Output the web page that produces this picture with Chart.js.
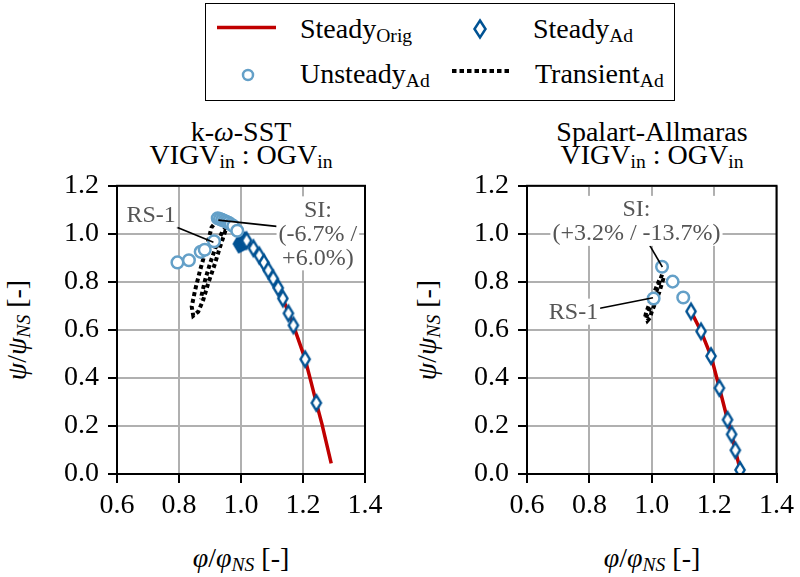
<!DOCTYPE html>
<html>
<head>
<meta charset="utf-8">
<title>Kennlinien VIGV : OGV</title>
<script src="https://cdn.jsdelivr.net/npm/chart.js@4.4.1/dist/chart.umd.min.js"></script>
<style>
    body {
        margin: 0;
        width: 800px;
        height: 577px;
        position: relative;
        overflow: hidden;
        background: #fff;
        color: #000;
        font-family: 'Liberation Serif', 'Times New Roman', serif;
    }
    canvas { position: absolute; }
    .txt {
        position: absolute;
        font-size: 28px;
        line-height: 28px;
        white-space: nowrap;
    }
    .center { transform: translateX(-50%); }
    .sub { font-size: 0.7em; position: relative; top: 0.22em; }
    .it { font-style: italic; }
    .ylab { transform: translate(-50%, -50%) rotate(-90deg); }
    #legend-box {
        position: absolute;
        left: 205px;
        top: 3px;
        width: 470px;
        height: 98px;
        border: 1.5px solid #000;
        box-sizing: border-box;
    }
</style>
</head>
<body>

<!-- legend -->
<div id="legend-box"></div>
<svg width="800" height="105" style="position:absolute;left:0;top:0">
    <line x1="217" y1="27.5" x2="276" y2="27.5" stroke="#C00000" stroke-width="3.5"/>
    <polygon points="480,20.5 485.5,29 480,37.5 474.5,29" fill="#fff" stroke="#005293" stroke-width="2.5"/>
    <circle cx="248" cy="75" r="5" fill="#fff" stroke="#64A0C8" stroke-width="2.5"/>
    <line x1="452" y1="71" x2="511" y2="71" stroke="#000" stroke-width="4" stroke-dasharray="4.5 3"/>
</svg>
<div class="txt" style="left:300px;top:15px">Steady<span class="sub">Orig</span></div>
<div class="txt" style="left:533px;top:15px">Steady<span class="sub">Ad</span></div>
<div class="txt" style="left:300px;top:59.5px">Unsteady<span class="sub">Ad</span></div>
<div class="txt" style="left:535px;top:59.5px">Transient<span class="sub">Ad</span></div>

<!-- titles -->
<div class="txt center" style="left:241px;top:118px">k-<span class="it">ω</span>-SST</div>
<div class="txt center" style="left:241px;top:141px">VIGV<span class="sub">in</span> : OGV<span class="sub">in</span></div>
<div class="txt center" style="left:652px;top:118px">Spalart-Allmaras</div>
<div class="txt center" style="left:652px;top:141px">VIGV<span class="sub">in</span> : OGV<span class="sub">in</span></div>

<!-- axis titles -->
<div class="txt ylab" style="left:18px;top:330px"><span class="it">ψ</span>/<span class="it">ψ</span><span class="sub it">NS</span> [-]</div>
<div class="txt ylab" style="left:428px;top:330px"><span class="it">ψ</span>/<span class="it">ψ</span><span class="sub it">NS</span> [-]</div>
<div class="txt center" style="left:241px;top:543.5px"><span class="it">φ</span>/<span class="it">φ</span><span class="sub it">NS</span> [-]</div>
<div class="txt center" style="left:652px;top:543.5px"><span class="it">φ</span>/<span class="it">φ</span><span class="sub it">NS</span> [-]</div>

<canvas id="chart-sst" width="400" height="360" style="left:0;top:160px;width:400px;height:360px"></canvas>
<canvas id="chart-sa" width="390" height="360" style="left:410px;top:160px;width:390px;height:360px"></canvas>

<script>
// axis ticks
const phiTicks = [0.6, 0.8, 1.0, 1.2, 1.4];
const phiTickLabels = ['0.6', '0.8', '1.0', '1.2', '1.4'];
const psiTicks = [0.0, 0.2, 0.4, 0.6, 0.8, 1.0, 1.2];
const psiTickLabels = ['0.0', '0.2', '0.4', '0.6', '0.8', '1.0', '1.2'];

// k-omega-SST: steady, original geometry
const sstOrigPhi = [0.991, 1.018, 1.040, 1.074, 1.104, 1.135, 1.169, 1.189, 1.207, 1.225, 1.243, 1.261, 1.291];
const sstOrigPsi = [0.958, 0.972, 0.940, 0.880, 0.814, 0.731, 0.619, 0.545, 0.478, 0.388, 0.296, 0.209, 0.044];
// k-omega-SST: steady, adapted
const sstSteadyPhi = [0.992, 0.995, 0.998, 1.001, 1.004, 1.007, 1.010, 1.014, 1.018, 1.040, 1.059, 1.074, 1.088, 1.104, 1.120, 1.135, 1.153, 1.169, 1.207, 1.243];
const sstSteadyPsi = [0.958, 0.960, 0.962, 0.964, 0.966, 0.968, 0.970, 0.971, 0.972, 0.940, 0.910, 0.880, 0.848, 0.814, 0.775, 0.731, 0.669, 0.619, 0.478, 0.296];
// k-omega-SST: unsteady, adapted
const sstUnsteadyPhi = [0.795, 0.832, 0.870, 0.883, 0.913, 0.925, 0.932, 0.939, 0.946, 0.953, 0.960, 0.967, 0.975, 0.988];
const sstUnsteadyPsi = [0.881, 0.890, 0.925, 0.934, 0.969, 1.065, 1.062, 1.058, 1.054, 1.050, 1.046, 1.040, 1.033, 1.013];
// k-omega-SST: transient run towards stall
const sstTransientPhi = [0.925, 0.905, 0.889, 0.868, 0.852, 0.841, 0.846, 0.862, 0.878, 0.894, 0.916, 0.932, 0.948, 0.953, 0.940, 0.922, 0.900, 0.884, 0.873, 0.871];
const sstTransientPsi = [1.060, 1.027, 0.944, 0.848, 0.766, 0.697, 0.659, 0.676, 0.724, 0.793, 0.876, 0.944, 1.006, 1.027, 1.010, 0.958, 0.876, 0.807, 0.745, 0.727];

// Spalart-Allmaras: steady, original geometry
const saOrigPhi = [1.126, 1.158, 1.190, 1.217, 1.243, 1.256, 1.268, 1.285];
const saOrigPsi = [0.677, 0.594, 0.491, 0.358, 0.226, 0.165, 0.099, 0.010];
// Spalart-Allmaras: steady, adapted
const saSteadyPhi = [1.126, 1.158, 1.190, 1.217, 1.243, 1.256, 1.268, 1.283];
const saSteadyPsi = [0.677, 0.594, 0.491, 0.358, 0.226, 0.165, 0.099, 0.017];
// Spalart-Allmaras: unsteady, adapted
const saUnsteadyPhi = [1.006, 1.033, 1.067, 1.101];
const saUnsteadyPsi = [0.731, 0.863, 0.801, 0.735];
// Spalart-Allmaras: transient run
const saTransientPhi = [1.033, 1.025, 1.020, 1.012, 1.004, 0.997, 0.989, 0.982, 0.986, 0.994, 1.000, 1.008, 1.016, 1.024, 1.030, 1.036, 1.026, 1.016, 1.008, 0.998, 0.990, 0.982, 0.978];
const saTransientPsi = [0.830, 0.800, 0.778, 0.752, 0.726, 0.700, 0.675, 0.650, 0.638, 0.650, 0.676, 0.702, 0.728, 0.756, 0.782, 0.808, 0.812, 0.782, 0.756, 0.728, 0.700, 0.672, 0.650];

const COLOR_ORIG = '#C00000';
const COLOR_STEADY = '#005293';
const COLOR_UNSTEADY = '#64A0C8';
const GRID_COLOR = '#b0b0b0';
const NOTE_COLOR = '#555';

const zip = (xs, ys) => xs.map((x, i) => ({ x: x, y: ys[i] }));

// thin diamond marker as an offscreen canvas
function diamondMarker(halfW, halfH, lw) {
    const c = document.createElement('canvas');
    c.width = Math.ceil(halfW * 2 + lw * 2 + 2);
    c.height = Math.ceil(halfH * 2 + lw * 2 + 2);
    const g = c.getContext('2d');
    const cx = c.width / 2, cy = c.height / 2;
    g.beginPath();
    g.moveTo(cx, cy - halfH);
    g.lineTo(cx + halfW, cy);
    g.lineTo(cx, cy + halfH);
    g.lineTo(cx - halfW, cy);
    g.closePath();
    g.fillStyle = '#fff';
    g.fill();
    g.lineWidth = lw;
    g.strokeStyle = COLOR_STEADY;
    g.stroke();
    return c;
}
const diamond = diamondMarker(4.6, 7.6, 2.4);

// frame around the plot area (top and right side too)
const frame = {
    id: 'frame',
    afterDatasetsDraw(chart) {
        const { ctx, chartArea: a } = chart;
        ctx.save();
        ctx.strokeStyle = '#000';
        ctx.lineWidth = 2;
        ctx.strokeRect(a.left, a.top, a.right - a.left, a.bottom - a.top);
        ctx.restore();
    }
};

// annotation texts with connector lines
const notes = {
    id: 'notes',
    afterDraw(chart, args, opts) {
        const { ctx, scales: { x, y } } = chart;
        const lh = 24;
        ctx.save();
        ctx.font = '24px "Liberation Serif", serif';
        ctx.textAlign = 'center';
        ctx.textBaseline = 'middle';
        (opts.items || []).forEach(n => {
            ctx.strokeStyle = '#000';
            ctx.lineWidth = 1.6;
            ctx.beginPath();
            ctx.moveTo(x.getPixelForValue(n.from[0]), y.getPixelForValue(n.from[1]));
            ctx.lineTo(x.getPixelForValue(n.to[0]), y.getPixelForValue(n.to[1]));
            ctx.stroke();

            const cx = x.getPixelForValue(n.at[0]);
            const cy = y.getPixelForValue(n.at[1]);
            const w = Math.max(...n.lines.map(t => ctx.measureText(t).width)) + 4;
            const h = n.lines.length * lh + 2;
            ctx.fillStyle = '#fff';
            ctx.fillRect(cx - w / 2, cy - h / 2, w, h);
            ctx.fillStyle = NOTE_COLOR;
            n.lines.forEach((t, i) => {
                ctx.fillText(t, cx, cy + (i - (n.lines.length - 1) / 2) * lh + 1);
            });
        });
        ctx.restore();
    }
};

function buildChart(canvasId, s, items, padRight) {
    const ctx = document.getElementById(canvasId);
    const tickFont = { family: "'Liberation Serif', serif", size: 28 };
    return new Chart(ctx, {
        type: 'scatter',
        data: {
            datasets: [
                {
                    label: 'Unsteady_Ad',
                    data: zip(s.unsteadyPhi, s.unsteadyPsi),
                    pointStyle: 'circle',
                    pointRadius: 5.8,
                    pointBorderWidth: 2.5,
                    pointBorderColor: COLOR_UNSTEADY,
                    pointBackgroundColor: '#fff',
                    clip: 0
                },
                {
                    label: 'Steady_Ad',
                    data: zip(s.steadyPhi, s.steadyPsi),
                    pointStyle: diamond,
                    pointRadius: 8,
                    clip: 0
                },
                {
                    label: 'Transient_Ad',
                    data: zip(s.transientPhi, s.transientPsi),
                    showLine: true,
                    borderColor: '#000',
                    borderWidth: 4,
                    borderDash: [4, 3],
                    pointRadius: 0,
                    clip: 0
                },
                {
                    label: 'Steady_Orig',
                    data: zip(s.origPhi, s.origPsi),
                    showLine: true,
                    borderColor: COLOR_ORIG,
                    borderWidth: 3.5,
                    pointRadius: 0,
                    clip: 0
                }
            ]
        },
        options: {
            responsive: false,
            animation: false,
            devicePixelRatio: 1,
            events: [],
            layout: { padding: { left: 0, top: 23, right: padRight, bottom: 0 } },
            plugins: {
                legend: { display: false },
                tooltip: { enabled: false },
                notes: { items: items }
            },
            scales: {
                x: {
                    type: 'linear',
                    min: 0.6,
                    max: 1.4,
                    afterBuildTicks: sc => { sc.ticks = phiTicks.map(v => ({ value: v })); },
                    afterFit: sc => { sc.height = 46; },
                    ticks: {
                        autoSkip: false,
                        maxRotation: 0,
                        padding: 6,
                        color: '#000',
                        font: tickFont,
                        callback: (v, i) => phiTickLabels[i]
                    },
                    grid: { color: GRID_COLOR, lineWidth: 2, tickColor: '#000', tickLength: 9, tickWidth: 2 },
                    border: { display: true, color: '#000', width: 2 }
                },
                y: {
                    type: 'linear',
                    min: 0,
                    max: 1.2,
                    afterBuildTicks: sc => { sc.ticks = psiTicks.map(v => ({ value: v })); },
                    afterFit: sc => { sc.width = 117; },
                    ticks: {
                        autoSkip: false,
                        padding: 9,
                        color: '#000',
                        font: tickFont,
                        callback: (v, i) => psiTickLabels[i]
                    },
                    grid: { color: GRID_COLOR, lineWidth: 2, tickColor: '#000', tickLength: 9, tickWidth: 2 },
                    border: { display: true, color: '#000', width: 2 }
                }
            }
        },
        plugins: [frame, notes]
    });
}

// k-omega-SST (left)
buildChart('chart-sst', {
    origPhi: sstOrigPhi, origPsi: sstOrigPsi,
    steadyPhi: sstSteadyPhi, steadyPsi: sstSteadyPsi,
    unsteadyPhi: sstUnsteadyPhi, unsteadyPsi: sstUnsteadyPsi,
    transientPhi: sstTransientPhi, transientPsi: sstTransientPsi
}, [
    { lines: ['RS-1'], at: [0.710, 1.080], from: [0.793, 1.027], to: [0.911, 0.965] },
    { lines: ['SI:', '(-6.7% /', '+6.0%)'], at: [1.248, 1.002], from: [0.927, 1.057], to: [1.115, 1.031] }
], 35);

// Spalart-Allmaras (right)
buildChart('chart-sa', {
    origPhi: saOrigPhi, origPsi: saOrigPsi,
    steadyPhi: saSteadyPhi, steadyPsi: saSteadyPsi,
    unsteadyPhi: saUnsteadyPhi, unsteadyPsi: saUnsteadyPsi,
    transientPhi: saTransientPhi, transientPsi: saTransientPsi
}, [
    { lines: ['SI:', '(+3.2% / -13.7%)'], at: [0.951, 1.054], from: [0.994, 0.951], to: [1.034, 0.862] },
    { lines: ['RS-1'], at: [0.749, 0.676], from: [0.834, 0.690], to: [1.004, 0.734] }
], 23);
</script>
</body>
</html>
